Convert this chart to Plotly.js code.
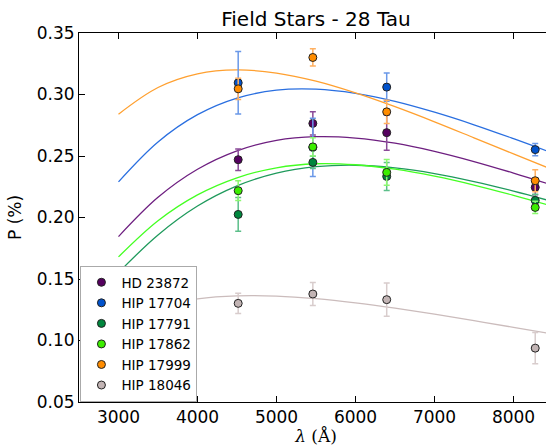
<!DOCTYPE html>
<html>
<head>
<meta charset="utf-8">
<script src="https://cdn.plot.ly/plotly-3.0.1.min.js"></script>
<style>
html, body { margin: 0; padding: 0; overflow: hidden; width: 546px; height: 446px; background: #fff; }
#chart { width: 553px; height: 446px; }
</style>
</head>
<body>
<div id="chart"></div>
<script>
// Observation wavelengths (Å)
const lamObs = [4515, 5460, 6395, 8275];

// Star names
const starNames = ["HD 23872", "HIP 17704", "HIP 17791", "HIP 17862", "HIP 17999", "HIP 18046"];

// Measured polarization (%)
const pHD23872  = [0.2470, 0.2765, 0.2690, 0.2245];
const pHIP17704 = [0.3095, 0.2570, 0.3060, 0.2552];
const pHIP17791 = [0.2025, 0.2448, 0.2334, 0.2139];
const pHIP17862 = [0.2218, 0.2574, 0.2367, 0.2082];
const pHIP17999 = [0.3046, 0.3301, 0.2859, 0.2299];
const pHIP18046 = [0.1302, 0.1378, 0.1332, 0.0938];

// Errors
const eHD23872  = [0.0087, 0.0095, 0.0144, 0.0060];
const eHIP17704 = [0.0254, 0.0237, 0.0115, 0.0050];
const eHIP17791 = [0.0137, 0.0050, 0.0114, 0.0050];
const eHIP17862 = [0.0080, 0.0075, 0.0105, 0.0050];
const eHIP17999 = [0.0087, 0.0070, 0.0095, 0.0090];
const eHIP18046 = [0.0083, 0.0094, 0.0135, 0.0128];

// Fitted curves
const lamFit = [3000, 3500, 4000, 4500, 5000, 5500, 6000, 6500, 7000, 7500, 8000, 8500];
const fHD23872  = [0.1845, 0.2164, 0.2392, 0.2542, 0.2627, 0.2657, 0.2646, 0.2604, 0.2538, 0.2455, 0.2361, 0.2261];
const fHIP17704 = [0.2290, 0.2614, 0.2836, 0.2971, 0.3035, 0.3043, 0.3009, 0.2944, 0.2856, 0.2754, 0.2641, 0.2523];
const fHIP17791 = [0.1552, 0.1858, 0.2093, 0.2257, 0.2361, 0.2413, 0.2425, 0.2403, 0.2357, 0.2292, 0.2215, 0.2129];
const fHIP17862 = [0.1680, 0.1974, 0.2184, 0.2323, 0.2404, 0.2437, 0.2429, 0.2393, 0.2336, 0.2264, 0.2180, 0.2090];
const fHIP17999 = [0.2840, 0.3057, 0.3168, 0.3200, 0.3174, 0.3108, 0.3013, 0.2901, 0.2778, 0.2648, 0.2517, 0.2387];
const fHIP18046 = [0.1180, 0.1280, 0.1339, 0.1363, 0.1361, 0.1340, 0.1306, 0.1263, 0.1214, 0.1161, 0.1107, 0.1053];

const xTicks = [3000, 4000, 5000, 6000, 7000, 8000];
const yTicks = [0.05, 0.10, 0.15, 0.20, 0.25, 0.30, 0.35];

const obs = [pHD23872, pHIP17704, pHIP17791, pHIP17862, pHIP17999, pHIP18046];
const errs = [eHD23872, eHIP17704, eHIP17791, eHIP17862, eHIP17999, eHIP18046];
const fits = [fHD23872, fHIP17704, fHIP17791, fHIP17862, fHIP17999, fHIP18046];

const markerColors = ["#55005f", "#0052cc", "#00873e", "#3cee00", "#ff8c00", "#c2b4b4"];
const lineColors   = ["#6e1f80", "#2a6fe0", "#1f9a5c", "#44ff22", "#ffa030", "#cbbcbc"];
const errColors    = ["#8a4a98", "#6a98e8", "#5cbf8a", "#8cf870", "#ffb060", "#d8cccc"];

const traces = [];
for (let i = 0; i < starNames.length; i++) {
  traces.push({
    x: lamFit, y: fits[i], type: "scatter", mode: "lines",
    line: { color: lineColors[i], width: 1.3, shape: "spline" },
    showlegend: false, hoverinfo: "skip"
  });
}
for (let i = 0; i < starNames.length; i++) {
  traces.push({
    x: lamObs, y: obs[i], type: "scatter", mode: "markers", name: starNames[i],
    marker: { color: markerColors[i], size: 8, line: { color: "#222", width: 1 } },
    error_y: { type: "data", array: errs[i], visible: true, color: errColors[i], thickness: 1.5, width: 3 }
  });
}

const layout = {
  width: 553, height: 446,
  margin: { l: 79, r: 0, t: 33, b: 44 },
  paper_bgcolor: "#fff", plot_bgcolor: "#fff",
  font: { family: "DejaVu Sans", size: 17, color: "#000" },
  title: { text: "Field Stars - 28 Tau", x: 0.5, xref: "paper", xanchor: "center", y: 0.957, yref: "container", yanchor: "middle", font: { size: 20, family: "DejaVu Sans" } },
  xaxis: {
    range: [2500, 8500], tickvals: xTicks, ticktext: xTicks.map(String),
    ticks: "inside", ticklen: 6, tickcolor: "#000", tickwidth: 1,
    showline: true, linecolor: "#000", linewidth: 1, mirror: "ticks",
    showgrid: false, zeroline: false,
    tickfont: { size: 17 },
    title: { text: "<i>λ</i> (Å)", font: { family: "DejaVu Serif", size: 17 }, standoff: 4 }
  },
  yaxis: {
    range: [0.05, 0.35], tickvals: yTicks, ticktext: yTicks.map(v => v.toFixed(2)),
    ticks: "inside", ticklen: 6, tickcolor: "#000", tickwidth: 1,
    showline: true, linecolor: "#000", linewidth: 1, mirror: "ticks",
    showgrid: false, zeroline: false,
    tickfont: { size: 17 },
    title: { text: "P (%)", font: { size: 17 }, standoff: 10 }
  },
  legend: {
    x: 0.003, y: 0, xanchor: "left", yanchor: "bottom",
    bgcolor: "#fff", bordercolor: "#aaaaaa", borderwidth: 1,
    font: { size: 13.5, family: "DejaVu Sans" },
    tracegroupgap: 0
  },
  showlegend: true
};

Plotly.newPlot("chart", traces, layout, { displayModeBar: false, staticPlot: true });
</script>
</body>
</html>
